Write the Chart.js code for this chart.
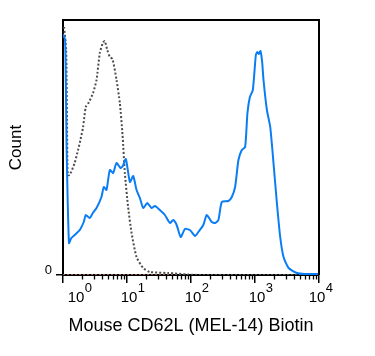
<!DOCTYPE html>
<html><head><meta charset="utf-8">
<script src="https://cdn.jsdelivr.net/npm/chart.js@4"></script>
<style>html,body{margin:0;padding:0;background:#fff;}canvas{display:block;}</style>
</head><body>
<canvas id="c" width="375" height="356"></canvas>
<script>
// CD62L stained sample (blue, solid)
const blueX = [1.0, 1.08, 1.14, 1.24, 1.35, 1.58, 1.83, 2.11, 2.27, 2.62, 2.92, 3.34, 3.99, 4.34, 4.78, 5.39, 6.07, 6.86, 7.92, 8.61, 9.59, 11.1, 12.5, 14.1, 15.9, 17.9, 20.7, 24.2, 27.3, 32.6, 39.1, 46.9, 52.8, 59.7, 69, 80.5, 96, 116, 130, 156, 176, 211, 238, 268, 303, 384, 434, 489, 551, 622, 701, 762, 832, 925, 1031, 1092, 1148, 1216, 1294, 1358, 1534, 1730, 1945, 2198, 2477, 2792, 3344, 4522, 6000, 10000];
const blueCount = [241, 235, 125, 32, 37, 41, 45, 53, 60, 57, 62, 67, 78, 88, 85, 105, 102, 112, 107, 109, 116, 93, 99, 85, 77, 67, 72, 67, 69, 65, 60, 52, 55, 50, 38, 46, 45, 39, 43, 50, 60, 53, 52, 55, 73, 74, 78, 88, 115, 125, 128, 162, 178, 185, 220, 223, 221, 224, 213, 195, 165, 148, 112, 72, 38, 18, 7, 2, 1, 1];
// isotype control (grey, dotted)
const isoX = [1.04, 1.12, 1.155, 1.185, 1.27, 1.52, 1.72, 1.87, 2.06, 2.27, 2.55, 2.95, 3.34, 3.76, 4.19, 4.50, 4.92, 5.39, 5.94, 6.86, 7.73, 8.52, 9.25, 10.4, 11.8, 14.1, 17.9, 22.8, 44, 90.7, 138, 10000];
const isoCount = [248, 225, 155, 100, 100, 112, 125, 135, 148, 168, 173, 182, 195, 222, 232, 234, 225, 218, 216, 195, 172, 140, 102, 68, 42, 18, 7, 3, 2, 0.5, 0, 0];
// unstained (faint red, dotted, at baseline)
const redX = [1, 10000];
const redCount = [0, 0];

const decadeValues = [1, 10, 100, 1000, 10000];
const tickBase = '10';
const tickExponents = ['0', '1', '2', '3', '4'];
const yTickValues = [0];
const xTitle = 'Mouse CD62L (MEL-14) Biotin';
const yTitle = 'Count';

const FONT = '"Liberation Sans", Arial, Helvetica, sans-serif';
const labelShift = [13, 2, 2, 2, -2];

function pts(xs, ys) { return xs.map((x, i) => ({ x: x, y: ys[i] })); }

const framePlugin = {
  id: 'frame',
  afterDraw(chart) {
    const ctx = chart.ctx, a = chart.chartArea, x = chart.scales.x;
    ctx.save();
    ctx.strokeStyle = '#000';
    ctx.lineWidth = 2;
    ctx.beginPath();
    ctx.moveTo(a.left, a.top);
    ctx.lineTo(a.right, a.top);
    ctx.lineTo(a.right, a.bottom);
    ctx.stroke();
    // minor ticks
    ctx.lineWidth = 1.3;
    ctx.beginPath();
    for (let k = 0; k < decadeValues.length - 1; k++) {
      for (let m = 2; m <= 9; m++) {
        const px = Math.round(x.getPixelForValue(decadeValues[k] * m)) + 0.5;
        ctx.moveTo(px, a.bottom);
        ctx.lineTo(px, a.bottom + 4.5);
      }
    }
    ctx.stroke();
    // tick labels 10^n
    ctx.fillStyle = '#000';
    ctx.textBaseline = 'alphabetic';
    ctx.textAlign = 'left';
    decadeValues.forEach((v, i) => {
      const px = x.getPixelForValue(v) + labelShift[i];
      ctx.font = '15px ' + FONT;
      const w = ctx.measureText(tickBase).width;
      const left = px - w / 2;
      ctx.fillText(tickBase, left, 302);
      ctx.font = '13px ' + FONT;
      ctx.fillText(tickExponents[i], left + w + 0.5, 292);
    });
    ctx.restore();
  }
};

new Chart(document.getElementById('c'), {
  type: 'scatter',
  data: {
    datasets: [
      { label: 'CD62L', data: pts(blueX, blueCount), showLine: true, borderColor: '#0a7df5', borderWidth: 2, pointRadius: 0, tension: 0.2, fill: false },
      { label: 'Isotype', data: pts(isoX, isoCount), showLine: true, borderColor: '#4d4d4d', borderWidth: 2, borderDash: [2, 2], pointRadius: 0, tension: 0.2, fill: false },
      { label: 'Unstained', data: pts(redX, redCount), showLine: true, borderColor: 'rgba(215,130,130,0.9)', borderWidth: 1.5, borderDash: [2, 2], pointRadius: 0, fill: false }
    ]
  },
  options: {
    responsive: false,
    animation: false,
    devicePixelRatio: 1,
    layout: { padding: { left: 0, right: 56, top: 20, bottom: 0 } },
    plugins: { legend: { display: false }, tooltip: { enabled: false } },
    scales: {
      x: {
        type: 'logarithmic', min: 1, max: 10000,
        afterBuildTicks(s) { s.ticks = decadeValues.map(v => ({ value: v, major: true })); },
        afterFit(s) { s.height = 81; },
        ticks: { display: false },
        grid: { display: true, drawOnChartArea: false, tickLength: 8, color: '#000', lineWidth: 1.5 },
        border: { display: true, color: '#000', width: 2 },
        title: { display: true, text: xTitle, color: '#000', font: { family: FONT, size: 18 }, padding: { top: 0, bottom: 19.5 } }
      },
      y: {
        type: 'linear', min: 0, max: 255,
        afterBuildTicks(s) { s.ticks = yTickValues.map(v => ({ value: v })); },
        afterFit(s) { s.width = 63; },
        ticks: { callback: v => String(v), color: '#000', font: { family: FONT, size: 13 }, padding: 4, labelOffset: -5 },
        grid: { display: true, drawOnChartArea: false, tickLength: 7, color: '#000', lineWidth: 1.5 },
        border: { display: true, color: '#000', width: 2 },
        title: { display: true, text: yTitle, color: '#000', font: { family: FONT, size: 17 }, padding: { top: 6, bottom: 0 } }
      }
    }
  },
  plugins: [framePlugin]
});
</script>
</body></html>
